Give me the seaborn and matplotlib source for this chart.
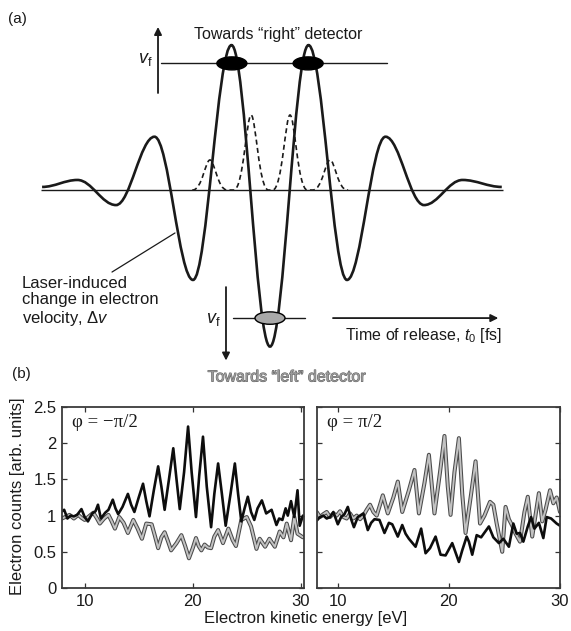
import matplotlib
matplotlib.use('Agg')
import matplotlib.pyplot as plt
import seaborn as sns
from matplotlib.path import Path
from matplotlib.patches import PathPatch, Ellipse
import matplotlib.patheffects as pe

# ---------------- data ----------------
# panel (a): extrema of the schematic laser-induced velocity change (t in half-cycles)
wave_t = [-5.92, -5, -4, -3, -2, -1, 0, 1, 2, 3, 4, 5, 6.02]
wave_dv = [0.02, 0.065, -0.097, 0.344, -0.58, 0.935, -1.01, 0.935, -0.58, 0.344, -0.097, 0.065, 0.02]
# dashed ionisation-rate bumps
bump_t = [-1.56, -0.49, 0.52, 1.56]
bump_h = [0.194, 0.484, 0.484, 0.194]

# panel (b), phi = -pi/2
left_black_x = [7.9, 8.1, 8.4, 8.7, 9.0, 9.3, 9.7, 10.0, 10.3, 10.7, 11.0, 11.23, 11.5, 11.9, 12.2,
                12.6, 12.85, 13.1, 13.5, 14.0, 14.3, 14.6, 15.0, 15.4, 15.7, 16.0, 16.4, 16.8, 17.1,
                17.4, 17.8, 18.2, 18.5, 18.8, 19.2, 19.57, 19.9, 20.3, 20.6, 20.95, 21.3, 21.7, 22.0,
                22.35, 22.7, 23.05, 23.5, 23.9, 24.2, 24.5, 24.8, 25.1, 25.4, 25.7, 26.0, 26.4, 26.8,
                27.3, 27.75, 28.0, 28.3, 28.6, 28.8, 29.1, 29.4, 29.7, 29.9, 30.2]
left_black_y = [1.06, 1.08, 0.96, 1.00, 0.99, 1.01, 1.09, 0.98, 0.92, 1.03, 1.06, 1.15, 0.96, 1.04, 1.08,
                1.22, 1.10, 1.02, 1.12, 1.30, 1.15, 1.05, 1.25, 1.44, 1.20, 0.99, 1.35, 1.68, 1.40,
                1.08, 1.50, 1.93, 1.50, 1.09, 1.60, 2.23, 1.60, 0.98, 1.55, 2.09, 1.40, 0.84, 1.30,
                1.72, 1.30, 0.86, 1.30, 1.72, 1.30, 0.92, 1.10, 1.26, 1.05, 0.94, 1.10, 1.21, 1.03,
                1.08, 0.87, 0.96, 0.94, 1.10, 1.00, 1.20, 0.98, 1.35, 0.86, 1.00]
left_gray_x = [7.9, 8.2, 8.6, 9.0, 9.4, 9.7, 10.0, 10.4, 10.8, 11.1, 11.4, 11.8, 12.2, 12.5, 12.8,
               13.2, 13.6, 14.0, 14.5, 14.9, 15.3, 15.7, 16.2, 16.5, 16.8, 17.1, 17.4, 17.7, 18.0,
               18.5, 18.95, 19.3, 19.65, 20.0, 20.3, 20.55, 20.8, 21.1, 21.4, 21.7, 22.0, 22.35,
               22.8, 23.3, 23.7, 24.0, 24.5, 25.0, 25.4, 25.9, 26.2, 26.7, 27.1, 27.6, 28.05, 28.4,
               28.7, 29.1, 29.4, 29.7, 30.2]
left_gray_y = [0.96, 0.98, 1.01, 0.96, 1.01, 0.97, 0.94, 0.99, 1.04, 0.97, 0.89, 0.96, 1.01, 0.92, 0.82,
               0.98, 0.90, 0.76, 0.94, 0.82, 0.68, 0.89, 0.88, 0.72, 0.55, 0.70, 0.77, 0.65, 0.52,
               0.62, 0.73, 0.58, 0.41, 0.55, 0.69, 0.58, 0.52, 0.60, 0.56, 0.55, 0.71, 0.80,
               0.62, 0.82, 0.66, 0.58, 0.94, 0.98, 0.85, 0.54, 0.68, 0.57, 0.68, 0.57, 0.78, 0.70,
               0.89, 0.66, 0.98, 0.75, 0.70]

# panel (b), phi = +pi/2
right_black_x = [8.1, 8.4, 8.7, 9.0, 9.3, 9.6, 10.0, 10.3, 10.6, 10.9, 11.2, 11.45, 11.8, 12.3, 12.7,
                 13.0, 13.3, 13.75, 14.2, 14.6, 14.9, 15.4, 15.8, 16.1, 16.4, 17.0, 17.5, 17.9, 18.3,
                 18.8, 19.25, 19.7, 20.3, 20.9, 21.2, 21.6, 21.8, 22.1, 22.5, 22.9, 23.6, 24.0, 24.5,
                 24.9, 25.4, 25.8, 26.1, 26.4, 26.7, 27.1, 27.4, 27.7, 28.1, 28.5, 28.8, 29.2, 29.7, 30.0]
right_black_y = [0.93, 0.98, 1.00, 0.96, 0.98, 1.05, 0.88, 0.98, 1.02, 1.12, 0.95, 0.84, 0.98, 1.03, 0.80,
                 0.90, 0.95, 0.94, 0.76, 0.90, 0.88, 0.71, 0.87, 0.75, 0.68, 0.57, 0.82, 0.48, 0.55,
                 0.71, 0.46, 0.45, 0.62, 0.36, 0.52, 0.71, 0.64, 0.46, 0.73, 0.70, 0.85, 0.70, 0.62,
                 0.68, 0.57, 0.89, 0.75, 0.76, 0.64, 0.85, 0.98, 0.82, 0.90, 0.69, 0.98, 0.96, 0.89, 0.86]
right_gray_x = [8.1, 8.4, 8.7, 9.0, 9.3, 9.6, 9.9, 10.2, 10.5, 10.8, 11.1, 11.4, 11.7, 12.0, 12.3,
                12.6, 12.9, 13.2, 13.5, 13.8, 14.05, 14.5, 15.0, 15.4, 15.8, 16.4, 16.9, 17.3, 17.8,
                18.2, 18.7, 19.2, 19.6, 19.9, 20.15, 20.5, 20.9, 21.2, 21.5, 22.0, 22.4, 22.8, 23.2,
                23.7, 24.0, 24.3, 24.8, 25.1, 25.4, 25.7, 26.0, 26.4, 26.8, 27.1, 27.5, 28.1, 28.4,
                28.7, 29.1, 29.4, 29.7, 30.0]
right_gray_y = [1.05, 0.98, 1.02, 1.05, 0.98, 1.03, 1.00, 1.06, 0.98, 0.96, 1.03, 0.96, 1.00, 0.95, 1.00,
                1.08, 1.15, 1.05, 1.00, 1.15, 1.28, 1.03, 1.25, 1.47, 1.05, 1.35, 1.63, 1.03, 1.45,
                1.84, 1.03, 1.60, 2.10, 1.40, 1.01, 1.60, 2.07, 1.30, 0.76, 1.30, 1.75, 0.89, 1.00,
                1.19, 1.15, 0.89, 0.50, 1.12, 0.95, 0.86, 0.75, 0.64, 1.05, 1.26, 0.71, 1.31, 0.92,
                1.08, 1.35, 1.17, 1.25, 1.05]

xticks = [10, 20, 30]
yticks = [0, 0.5, 1, 1.5, 2, 2.5]
ytick_labels = ['0', '0.5', '1', '1.5', '2', '2.5']
panel_titles = ['\u03c6 = \u2212\u03c0/2', '\u03c6 = \u03c0/2']

# ---------------- style ----------------
sns.set_theme(style='white')
plt.rcParams['font.family'] = ['Liberation Sans', 'DejaVu Sans']
plt.rcParams['mathtext.fontset'] = 'custom'
plt.rcParams['mathtext.rm'] = 'Liberation Sans'
plt.rcParams['mathtext.it'] = 'Liberation Sans:italic'
plt.rcParams['mathtext.bf'] = 'Liberation Sans:bold'

TXT = '#1a1a1a'
W, H = 571, 631
fig = plt.figure(figsize=(W / 100, H / 100), dpi=100)

# ---------------- panel (a) ----------------
axa = fig.add_axes([0, 1 - 390 / H, 1, 390 / H])
axa.set_xlim(-7.013, 7.818)
axa.set_ylim(-1.290, 1.226)
axa.axis('off')

# baseline
axa.plot([-5.94, 6.04], [0, 0], color=TXT, lw=1.0, solid_capstyle='butt')

# velocity-change wave through the extrema
a = 0.364
verts = [(wave_t[0], wave_dv[0])]
codes = [Path.MOVETO]
for i in range(len(wave_t) - 1):
    t0, t1 = wave_t[i], wave_t[i + 1]
    d = (t1 - t0) * a
    verts += [(t0 + d, wave_dv[i]), (t1 - d, wave_dv[i + 1]), (t1, wave_dv[i + 1])]
    codes += [Path.CURVE4] * 3
axa.add_patch(PathPatch(Path(verts, codes), fill=False, edgecolor=TXT, lw=1.9, zorder=3))

# dashed bumps
verts = [(-2.0, 0)]
codes = [Path.MOVETO]
for tp, h in zip(bump_t, bump_h):
    verts.append((tp - 0.45, 0)); codes.append(Path.LINETO)
    verts += [(tp - 0.2, 0), (tp - 0.12, h), (tp, h)]; codes += [Path.CURVE4] * 3
    verts += [(tp + 0.12, h), (tp + 0.2, 0), (tp + 0.45, 0)]; codes += [Path.CURVE4] * 3
verts.append((2.03, 0)); codes.append(Path.LINETO)
axa.add_patch(PathPatch(Path(verts, codes), fill=False, edgecolor=TXT, lw=1.2,
                        linestyle=(0, (3, 2)), zorder=2))

# top detector line + black ellipses
axa.plot([-2.83, 3.04], [0.817, 0.817], color=TXT, lw=1.0)
for tc in (-0.99, 0.99):
    axa.add_patch(Ellipse((tc, 0.817), 0.78, 0.084, facecolor='black', edgecolor='black', zorder=4))
# bottom detector line + gray ellipse
axa.plot([-0.96, 0.91], [-0.826, -0.826], color=TXT, lw=1.0)
axa.add_patch(Ellipse((0, -0.826), 0.78, 0.08, facecolor='#a9a9a9', edgecolor='black', lw=1.0, zorder=4))

arrow = dict(arrowstyle='-|>', lw=1.3, color=TXT, mutation_scale=11, shrinkA=0, shrinkB=0)
axa.annotate('', xy=(-2.909, 1.052), xytext=(-2.909, 0.626), arrowprops=arrow)
axa.annotate('', xy=(-1.143, -1.100), xytext=(-1.143, -0.626), arrowprops=arrow)
axa.annotate('', xy=(5.93, -0.826), xytext=(1.636, -0.826), arrowprops=arrow)

axa.text(-3.23, 0.845, r'$v_\mathrm{f}$', fontsize=13, ha='center', va='center', color=TXT)
axa.text(-1.48, -0.835, r'$v_\mathrm{f}$', fontsize=13, ha='center', va='center', color=TXT)
axa.text(0.21, 1.006, 'Towards \u201cright\u201d detector', fontsize=11.5, ha='center', va='center', color=TXT)
axa.text(6.03, -0.94, r'Time of release, $t_0$ [fs]', fontsize=11.5, ha='right', va='center', color=TXT)
axa.text(0.44, -1.206, 'Towards \u201cleft\u201d detector', fontsize=11.5, ha='center', va='center',
         color='#9a9a9a', path_effects=[pe.withStroke(linewidth=0.7, foreground='#606060')])
axa.text(-6.44, -0.72, 'Laser-induced\nchange in electron\nvelocity, \u0394$v$', fontsize=12,
         ha='left', va='center', linespacing=1.12, color=TXT)
axa.plot([-4.104, -2.468], [-0.529, -0.277], color=TXT, lw=0.9)

fig.text(8 / W, 1 - 19 / H, '(a)', fontsize=11, ha='left', va='center', color=TXT)
fig.text(12 / W, 1 - 374 / H, '(b)', fontsize=11, ha='left', va='center', color=TXT)

# ---------------- panel (b) ----------------
bot = 1 - 588 / H
hgt = (588 - 407) / H
axL = fig.add_axes([62 / W, bot, (304 - 62) / W, hgt])
axR = fig.add_axes([316.7 / W, bot, (560 - 316.7) / W, hgt])

series = [
    (axL, left_gray_x, left_gray_y, left_black_x, left_black_y, (7.9, 30.3)),
    (axR, right_gray_x, right_gray_y, right_black_x, right_black_y, (8.1, 30.0)),
]
for k, (ax, gx, gy, bx, by, xl) in enumerate(series):
    sns.lineplot(x=gx, y=gy, ax=ax, color='#4a4a4a', linewidth=2.9, sort=False, estimator=None,
                 legend=False, solid_joinstyle='round')
    sns.lineplot(x=gx, y=gy, ax=ax, color='#c2c2c2', linewidth=1.4, sort=False, estimator=None,
                 legend=False, solid_joinstyle='round')
    sns.lineplot(x=bx, y=by, ax=ax, color='#0d0d0d', linewidth=1.9, sort=False, estimator=None,
                 legend=False, solid_joinstyle='round')
    ax.set_xlim(*xl)
    ax.set_ylim(0, 2.5)
    ax.set_xticks(xticks)
    ax.set_xticklabels([str(v) for v in xticks])
    ax.set_yticks(yticks)
    ax.set_yticklabels(ytick_labels)
    ax.tick_params(direction='in', length=3.5, width=0.9, top=True, right=True, bottom=True, left=True,
                   labelsize=12, colors='#333333', labelcolor=TXT, pad=4)
    ax.set_xlabel('')
    ax.set_ylabel('')
    for s in ax.spines.values():
        s.set_visible(True)
        s.set_color('#3a3a3a')
        s.set_linewidth(1.3)
    ax.text(0.042, 0.915, panel_titles[k], transform=ax.transAxes, fontsize=13.5,
            family=['Liberation Serif', 'DejaVu Serif'], ha='left', va='center', color=TXT)
axR.tick_params(labelleft=False)

fig.text(306 / W, 1 - 619 / H, 'Electron kinetic energy [eV]', fontsize=12, ha='center', va='center', color=TXT)
fig.text(18 / W, 1 - 496 / H, 'Electron counts [arb. units]', fontsize=12, ha='center', va='center',
         rotation=90, color=TXT)

fig.savefig('out.png', dpi=100)
